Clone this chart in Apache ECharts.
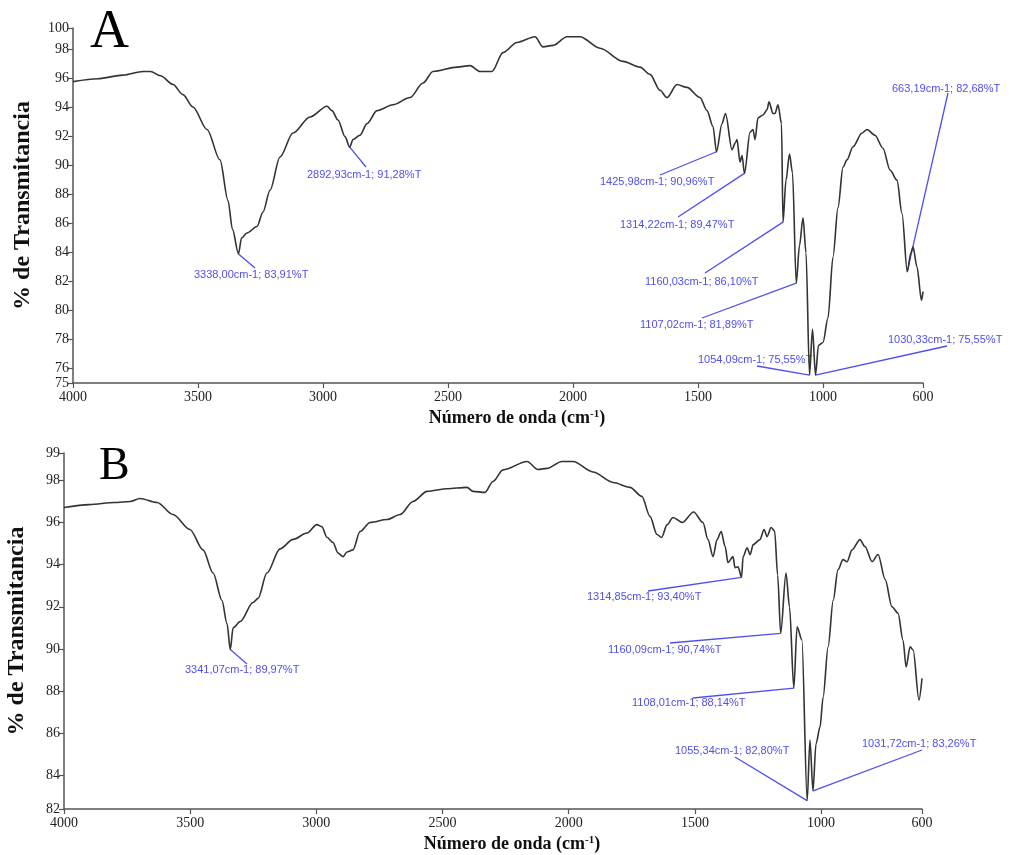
<!DOCTYPE html>
<html>
<head>
<meta charset="utf-8">
<script src="https://cdn.jsdelivr.net/npm/echarts@6/dist/echarts.min.js"></script>
<style>
  html, body { margin: 0; padding: 0; background: #fff; }
  #chart { width: 1011px; height: 855px; }
</style>
</head>
<body>
<div id="chart"></div>
<script>
// wavenumber (cm-1), % transmittance
const spectrumA = [
  [4000, 95.8], [3900, 96.0], [3800, 96.25], [3720, 96.5], [3690, 96.5], [3650, 96.2], [3600, 95.6],
  [3560, 94.9], [3520, 94.05], [3464, 92.5], [3412, 90.4], [3380, 87.6], [3362, 85.6], [3338, 83.91],
  [3326, 85.0], [3304, 85.35], [3264, 85.8], [3240, 86.8], [3212, 88.3], [3172, 90.6], [3120, 92.25],
  [3052, 93.36], [2984, 94.1], [2964, 93.8], [2940, 93.15], [2912, 92.0], [2893, 91.28], [2880, 91.8],
  [2852, 92.1], [2824, 92.9], [2784, 93.8], [2720, 94.2], [2652, 94.7], [2600, 95.7], [2560, 96.5],
  [2464, 96.8], [2412, 96.9], [2372, 96.5], [2324, 96.5], [2280, 97.8], [2224, 98.5], [2152, 98.9],
  [2120, 98.2], [2080, 98.3], [2024, 98.9], [1972, 98.9], [1892, 98.1], [1800, 97.2], [1732, 96.8],
  [1692, 96.3], [1652, 95.2], [1624, 94.7], [1584, 95.6], [1544, 95.4], [1492, 94.7], [1464, 93.8],
  [1440, 92.7], [1426, 90.96], [1404, 92.9], [1390, 93.6], [1364, 91.1], [1350, 91.6], [1344, 91.8],
  [1332, 90.25], [1324, 90.7], [1314, 89.47], [1292, 92.3], [1280, 92.5], [1272, 91.8], [1260, 93.3],
  [1240, 93.5], [1224, 93.85], [1216, 94.4], [1200, 93.6], [1192, 93.6], [1180, 94.2], [1166, 92.9],
  [1160, 86.10], [1148, 89.0], [1134, 90.8], [1122, 89.5], [1107, 81.89], [1094, 84.5], [1080, 86.4],
  [1068, 84.0], [1054, 75.55], [1042, 78.7], [1030, 75.55], [1018, 77.6], [1000, 77.8], [980, 79.5],
  [960, 83.7], [940, 87.1], [920, 89.9], [904, 90.4], [880, 91.3], [844, 92.25], [824, 92.5],
  [792, 92.1], [760, 91.2], [732, 89.7], [704, 89.0], [684, 86.7], [663, 82.68], [648, 84.0],
  [640, 84.4], [624, 83.0], [606, 80.7], [600, 81.3]
];

const spectrumB = [
  [4000, 96.71], [3900, 96.85], [3800, 96.95], [3738, 97.0], [3699, 97.14], [3631, 96.95], [3568, 96.38],
  [3501, 95.67], [3449, 94.7], [3409, 93.6], [3374, 92.3], [3354, 91.2], [3341, 89.97], [3330, 91.0],
  [3302, 91.3], [3251, 92.2], [3231, 92.4], [3196, 93.6], [3144, 94.75], [3092, 95.2], [3037, 95.5],
  [2998, 95.9], [2978, 95.8], [2958, 95.3], [2934, 95.05], [2914, 94.55], [2894, 94.38], [2879, 94.6],
  [2855, 94.7], [2827, 95.57], [2787, 96.0], [2720, 96.14], [2668, 96.38], [2617, 97.0], [2561, 97.48],
  [2482, 97.6], [2403, 97.67], [2379, 97.48], [2332, 97.43], [2300, 97.95], [2260, 98.5], [2165, 98.9],
  [2122, 98.52], [2086, 98.57], [2027, 98.9], [1983, 98.9], [1904, 98.4], [1824, 97.9], [1757, 97.67],
  [1710, 97.24], [1678, 96.29], [1650, 95.43], [1632, 95.29], [1610, 95.9], [1587, 96.24], [1550, 96.0],
  [1505, 96.5], [1468, 96.0], [1448, 95.19], [1428, 94.38], [1412, 95.19], [1396, 95.57], [1380, 94.86],
  [1369, 94.1], [1349, 94.38], [1341, 93.86], [1329, 93.9], [1315, 93.40], [1309, 94.38], [1293, 94.8],
  [1281, 94.48], [1269, 94.95], [1242, 95.19], [1226, 95.67], [1214, 95.33], [1198, 95.76], [1184, 95.6],
  [1172, 93.5], [1160, 90.74], [1139, 93.6], [1125, 92.0], [1108, 88.14], [1095, 91.05], [1076, 90.43],
  [1055, 82.80], [1044, 85.67], [1032, 83.26], [1020, 85.5], [1004, 86.3], [992, 87.7], [972, 90.1],
  [952, 92.3], [933, 93.76], [913, 94.24], [897, 94.14], [877, 94.7], [846, 95.19], [826, 94.86],
  [798, 94.14], [774, 94.48], [746, 93.3], [719, 92.0], [695, 91.7], [675, 90.4], [663, 89.14],
  [647, 90.1], [635, 89.95], [612, 87.57], [600, 88.6]
];

// labelled peaks
const peaksA = [
  [3338.00, 83.91], [2892.93, 91.28], [1425.98, 90.96], [1314.22, 89.47], [1160.03, 86.10],
  [1107.02, 81.89], [1054.09, 75.55], [1030.33, 75.55], [663.19, 82.68]
];
const peaksB = [
  [3341.07, 89.97], [1314.85, 93.40], [1160.09, 90.74], [1108.01, 88.14], [1055.34, 82.80], [1031.72, 83.26]
];

const xTicks = [4000, 3500, 3000, 2500, 2000, 1500, 1000, 600];
const yTicksA = [75, 76, 78, 80, 82, 84, 86, 88, 90, 92, 94, 96, 98, 99.5];   // top shown as 100
const yTicksB = [82.4, 84, 86, 88, 90, 92, 94, 96, 98, 99.3];                 // ends shown as 82 / 99

// where each leader line ends and its text sits (pixels)
const calloutA = [
  { end: [255, 268], text: [194, 275] },
  { end: [366, 167], text: [307, 175] },
  { end: [660, 175], text: [600, 182] },
  { end: [678, 217], text: [620, 225] },
  { end: [705, 273], text: [645, 282] },
  { end: [702, 318], text: [640, 325] },
  { end: [757, 366], text: [698, 360] },
  { end: [947, 346], text: [888, 340] },
  { end: [948, 93], text: [892, 89] }
];
const calloutB = [
  { end: [247, 664], text: [185, 670] },
  { end: [648, 591], text: [587, 597] },
  { end: [670, 643], text: [608, 650] },
  { end: [693, 698], text: [632, 703] },
  { end: [735, 757], text: [675, 751] },
  { end: [922, 750], text: [862, 744] }
];

const serif = "'Liberation Serif', 'Times New Roman', serif";
const axisColor = '#555';
const blue = '#4f4ff0';

function xAxisFor(grid, pad) {
  return {
    type: 'value', gridIndex: grid, min: 600, max: 4000, inverse: true,
    name: '{a|Número de onda (cm}{s|-1}{a|)}',
    nameLocation: 'middle', nameGap: 26,
    nameTextStyle: {
      padding: [0, 0, 0, pad],
      rich: {
        a: { fontFamily: serif, fontSize: 18, fontWeight: 'bold', color: '#111' },
        s: { fontFamily: serif, fontSize: 11, fontWeight: 'bold', color: '#111', verticalAlign: 'top' }
      }
    },
    axisLine: { onZero: false, lineStyle: { color: axisColor, width: 1.5 } },
    axisTick: { customValues: xTicks, length: 5, lineStyle: { color: axisColor, width: 1.2 } },
    axisLabel: {
      customValues: xTicks, fontFamily: serif, fontSize: 14, color: '#222', margin: 7,
      formatter: v => String(v)
    },
    splitLine: { show: false }
  };
}

function yAxisFor(grid, min, max, ticks, gap) {
  return {
    type: 'value', gridIndex: grid, min: min, max: max,
    name: '% de Transmitancia', nameLocation: 'middle', nameGap: gap,
    nameTextStyle: { fontFamily: serif, fontSize: 24, fontWeight: 'bold', color: '#111' },
    axisLine: { show: true, onZero: false, lineStyle: { color: axisColor, width: 1.5 } },
    axisTick: { show: true, customValues: ticks, length: 5, lineStyle: { color: axisColor, width: 1.2 } },
    axisLabel: {
      customValues: ticks, fontFamily: serif, fontSize: 14, color: '#222', margin: 4,
      formatter: v => String(Math.round(v))
    },
    splitLine: { show: false }
  };
}

function spectrumSeries(idx, data) {
  return {
    type: 'line', xAxisIndex: idx, yAxisIndex: idx, data: data,
    showSymbol: false, smooth: 0.3, smoothMonotone: 'x', silent: true,
    lineStyle: { color: '#333', width: 1.6 }
  };
}

const chart = echarts.init(document.getElementById('chart'));
chart.setOption({
  animation: false,
  backgroundColor: '#fff',
  grid: [
    { left: 73, right: 88, top: 28, height: 355, outerBoundsMode: 'none', containLabel: false },
    { left: 64, right: 89, top: 453, height: 356, outerBoundsMode: 'none', containLabel: false }
  ],
  xAxis: [xAxisFor(0, 38), xAxisFor(1, 38)],
  yAxis: [yAxisFor(0, 75, 99.5, yTicksA, 38), yAxisFor(1, 82.4, 99.3, yTicksB, 35)],
  series: [spectrumSeries(0, spectrumA), spectrumSeries(1, spectrumB)]
});

const fmt = v => v.toFixed(2).replace('.', ',');

function callouts(grid, peaks, layout) {
  const out = [];
  peaks.forEach((p, i) => {
    const pt = chart.convertToPixel({ gridIndex: grid }, p);
    const c = layout[i];
    out.push({
      type: 'line', silent: true,
      shape: { x1: pt[0], y1: pt[1], x2: c.end[0], y2: c.end[1] },
      style: { stroke: blue, lineWidth: 1.3 }
    });
    out.push({
      type: 'text', silent: true, x: c.text[0], y: c.text[1],
      style: {
        text: fmt(p[0]) + 'cm-1; ' + fmt(p[1]) + '%T',
        fill: blue, font: "11px 'Liberation Sans', Arial, sans-serif",
        verticalAlign: 'middle'
      }
    });
  });
  return out;
}

chart.setOption({
  graphic: [
    { type: 'text', x: 90, y: 6, silent: true,
      style: { text: 'A', fill: '#000', font: "54px " + serif } },
    { type: 'text', x: 99, y: 444, silent: true,
      style: { text: 'B', fill: '#000', font: "46px " + serif } }
  ].concat(callouts(0, peaksA, calloutA), callouts(1, peaksB, calloutB))
});
</script>
</body>
</html>
